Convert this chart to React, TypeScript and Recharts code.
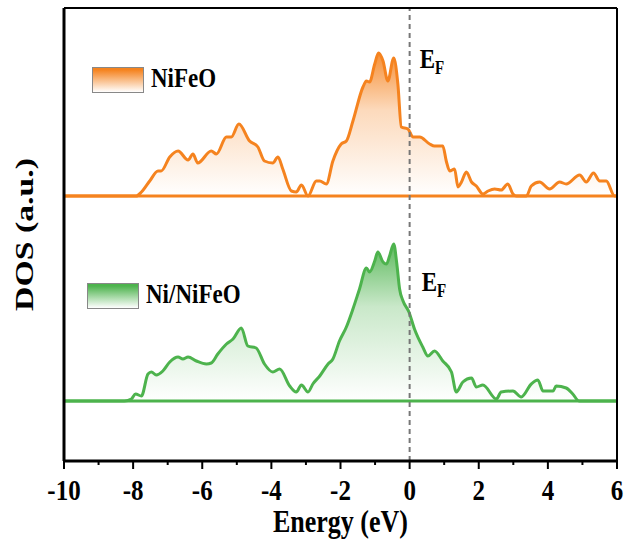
import { AreaChart, Area, XAxis, YAxis, ReferenceLine, Legend } from "recharts";

const FONT = '"Liberation Serif", "Times New Roman", serif';
// the source figure's lettering is slightly tall and narrow
const STRETCH = 1.22;

// energies (eV) and DOS (a.u.)
const nifeoEnergy = [
  -10, -7.91, -7.76, -7.52, -7.28, -7.19, -6.94, -6.7, -6.41, -6.27, -6.13, -5.74, -5.59, -5.3, -5.16, -4.94,
  -4.63, -4.39, -4.2, -3.96, -3.81, -3.67, -3.42, -3.28, -3.13, -2.94, -2.7, -2.6, -2.41, -2.22, -1.98, -1.83,
  -1.64, -1.35, -1.25, -1.16, -1.01, -0.9, -0.77, -0.63, -0.46, -0.34, -0.24, -0.05, 0.1, 0.29, 0.58, 0.72,
  0.96, 1.06, 1.16, 1.3, 1.4, 1.5, 1.64, 1.79, 1.93, 2.12, 2.27, 2.46, 2.65, 2.84, 2.99, 3.09, 3.38, 3.52,
  3.76, 4.05, 4.34, 4.53, 4.92, 5.11, 5.32, 5.5, 5.69, 5.93, 6,
];
const nifeoDos = [
  0, 0, 4, 15, 25, 25, 39, 45, 36, 42, 33, 45, 42, 59, 59, 72,
  55, 49, 35, 33, 39, 27, 5, 4, 11, 0, 15, 15, 12, 35, 52, 55,
  75, 109, 115, 114, 132, 143, 135, 115, 138, 112, 69, 67, 59, 59, 52, 50,
  50, 35, 25, 27, 9, 14, 24, 14, 10, 2, 5, 7, 6, 12, 2, 0, 0, 10,
  14, 7, 14, 12, 21, 14, 23, 15, 15, 0, 0,
];

const niNifeoEnergy = [
  -10, -8.25, -8.05, -7.93, -7.76, -7.57, -7.47, -7.33, -7.14, -6.94, -6.7, -6.56, -6.41, -6.17, -5.88, -5.74,
  -5.55, -5.3, -5.11, -4.87, -4.68, -4.44, -4.2, -3.96, -3.76, -3.47, -3.28, -3.13, -2.94, -2.8, -2.6, -2.36,
  -2.22, -2.03, -1.83, -1.64, -1.45, -1.25, -1.16, -1.01, -0.92, -0.77, -0.67, -0.58, -0.46, -0.37, -0.29, -0.19,
  -0.02, 0.14, 0.38, 0.53, 0.72, 0.96, 1.21, 1.35, 1.54, 1.79, 1.93, 2.12, 2.51, 2.65, 2.99, 3.23,
  3.52, 3.71, 3.86, 4.15, 4.24, 4.53, 4.72, 4.9, 6,
];
const niNifeoDos = [
  0, 0, 2, 7, 5, 27, 29, 26, 30, 39, 44, 42, 44, 40, 37, 38,
  47, 57, 62, 73, 55, 53, 37, 29, 32, 15, 9, 16, 9, 17, 25, 37,
  42, 60, 74, 92, 112, 133, 129, 140, 149, 139, 137, 145, 157, 137, 112, 100,
  89, 72, 54, 45, 50, 40, 29, 9, 19, 23, 14, 16, 2, 9, 10, 4,
  17, 21, 10, 10, 15, 13, 7, 0, 0,
];

const energyTicks = [-10, -9, -8, -7, -6, -5, -4, -3, -2, -1, 0, 1, 2, 3, 4, 5, 6];

// vertical shifts of the two stacked curves
const NIFEO_OFFSET = 265;
const NI_NIFEO_OFFSET = 60;

const ORANGE = "#F5831F";
const GREEN = "#4DB34D";

// merge both series into one table keyed by energy
const rowMap = new Map<number, any>();
nifeoEnergy.forEach((e, i) => {
  const row = rowMap.get(e) || { e };
  row.nifeo = NIFEO_OFFSET + nifeoDos[i];
  rowMap.set(e, row);
});
niNifeoEnergy.forEach((e, i) => {
  const row = rowMap.get(e) || { e };
  row.niNifeo = NI_NIFEO_OFFSET + niNifeoDos[i];
  rowMap.set(e, row);
});
const data = Array.from(rowMap.values()).sort((a, b) => a.e - b.e);

const legendSpots: Record<string, { left: number; top: number }> = {
  NiFeO: { left: 92, top: 67 },
  "Ni/NiFeO": { left: 87, top: 283 },
};

function DosLegend({ payload }: any) {
  return (
    <div>
      {(payload || []).map((entry: any) => {
        const spot = legendSpots[entry.value];
        if (!spot) return null;
        return (
          <div
            key={entry.value}
            style={{ position: "absolute", left: spot.left, top: spot.top, display: "flex", alignItems: "center" }}
          >
            <div
              style={{
                width: 52,
                height: 26,
                boxSizing: "border-box",
                border: "1px solid #888",
                background: `linear-gradient(to bottom, ${entry.color} 0%, ${entry.color} 8%, #ffffff 100%)`,
              }}
            />
            <span
              style={{
                display: "inline-block",
                marginLeft: 7,
                fontSize: 23,
                fontWeight: "bold",
                fontFamily: FONT,
                lineHeight: "26px",
                color: "#000",
                whiteSpace: "nowrap",
                transform: "scaleY(1.15)",
                transformOrigin: "50% 80%",
              }}
            >
              {entry.value}
            </span>
          </div>
        );
      })}
    </div>
  );
}

function EnergyTick({ x, y, payload }: any) {
  const major = payload.value % 2 === 0;
  return (
    <g>
      <line x1={x} x2={x} y1={y} y2={y + (major ? 8 : 4)} stroke="#000" strokeWidth={2} />
      {major && (
        <text
          transform={`translate(${x} ${y + 39}) scale(1 ${STRETCH})`}
          textAnchor="middle"
          fontSize={25}
          fontWeight="bold"
          fontFamily={FONT}
          fill="#000"
        >
          {payload.value}
        </text>
      )}
    </g>
  );
}

function FermiLabel({ viewBox }: any) {
  const x = viewBox.x;
  const top = viewBox.y;
  return (
    <g fontFamily={FONT} fontWeight="bold" fill="#000">
      <text transform={`translate(${x + 10} ${top + 60}) scale(1 ${STRETCH})`} fontSize={23}>
        E<tspan dy={5} fontSize={15}>F</tspan>
      </text>
      <text transform={`translate(${x + 12} ${top + 283}) scale(1 ${STRETCH})`} fontSize={23}>
        E<tspan dy={5} fontSize={15}>F</tspan>
      </text>
    </g>
  );
}

function EnergyLabel({ viewBox }: any) {
  return (
    <text
      transform={`translate(${viewBox.x + viewBox.width / 2} ${viewBox.y + 71}) scale(1 ${STRETCH})`}
      textAnchor="middle"
      fontSize={26}
      fontWeight="bold"
      fontFamily={FONT}
      fill="#000"
    >
      Energy (eV)
    </text>
  );
}

function DosLabel({ viewBox }: any) {
  const cy = viewBox.y + viewBox.height / 2;
  return (
    <text
      transform={`translate(33 ${cy}) rotate(-90) scale(1.3 1)`}
      textAnchor="middle"
      fontSize={26}
      fontWeight="bold"
      fontFamily={FONT}
      fill="#000"
    >
      DOS (a.u.)
    </text>
  );
}

export default function App() {
  return (
    <div style={{ position: "absolute", left: 0, top: 0, width: 625, height: 545, background: "#fff" }}>
      <AreaChart width={625} height={545} data={data} margin={{ top: 0, right: 0, bottom: 0, left: 0 }}>
        <defs>
          <linearGradient id="fillOrange" x1="0" y1="0" x2="0" y2="1">
            <stop offset="0%" stopColor={ORANGE} stopOpacity={0.9} />
            <stop offset="40%" stopColor={ORANGE} stopOpacity={0.3} />
            <stop offset="100%" stopColor={ORANGE} stopOpacity={0.0} />
          </linearGradient>
          <linearGradient id="fillGreen" x1="0" y1="0" x2="0" y2="1">
            <stop offset="0%" stopColor={GREEN} stopOpacity={0.9} />
            <stop offset="40%" stopColor={GREEN} stopOpacity={0.3} />
            <stop offset="100%" stopColor={GREEN} stopOpacity={0.0} />
          </linearGradient>
        </defs>
        <XAxis
          dataKey="e"
          type="number"
          domain={[-10, 6]}
          ticks={energyTicks}
          interval={0}
          height={84}
          tickSize={0}
          tickMargin={0}
          tickLine={false}
          tick={<EnergyTick />}
          axisLine={{ stroke: "#000", strokeWidth: 3 }}
          label={<EnergyLabel />}
        />
        <XAxis
          xAxisId="top"
          orientation="top"
          dataKey="e"
          type="number"
          domain={[-10, 6]}
          height={8}
          tick={false}
          tickLine={false}
          axisLine={{ stroke: "#000", strokeWidth: 2 }}
        />
        <YAxis
          type="number"
          domain={[0, 453]}
          width={64}
          tick={false}
          tickLine={false}
          axisLine={{ stroke: "#000", strokeWidth: 3 }}
          label={<DosLabel />}
        />
        <YAxis
          yAxisId="right"
          orientation="right"
          type="number"
          domain={[0, 453]}
          width={8}
          tick={false}
          tickLine={false}
          axisLine={{ stroke: "#000", strokeWidth: 2 }}
        />
        <Legend
          layout="vertical"
          align="center"
          verticalAlign="middle"
          content={<DosLegend />}
          wrapperStyle={{ position: "absolute", left: 0, top: 0, width: 625, height: 545, pointerEvents: "none" }}
        />
        <Area
          name="NiFeO"
          dataKey="nifeo"
          type="monotone"
          baseValue={NIFEO_OFFSET}
          stroke={ORANGE}
          strokeWidth={3}
          fill="url(#fillOrange)"
          fillOpacity={1}
          connectNulls
          dot={false}
          activeDot={false}
          isAnimationActive={false}
        />
        <Area
          name="Ni/NiFeO"
          dataKey="niNifeo"
          type="monotone"
          baseValue={NI_NIFEO_OFFSET}
          stroke={GREEN}
          strokeWidth={3}
          fill="url(#fillGreen)"
          fillOpacity={1}
          connectNulls
          dot={false}
          activeDot={false}
          isAnimationActive={false}
        />
        <ReferenceLine y={NIFEO_OFFSET} stroke={ORANGE} strokeWidth={3} />
        <ReferenceLine y={NI_NIFEO_OFFSET} stroke={GREEN} strokeWidth={3} />
        <ReferenceLine x={0} stroke="#777" strokeWidth={2} strokeDasharray="5 4" label={<FermiLabel />} />
      </AreaChart>
    </div>
  );
}
